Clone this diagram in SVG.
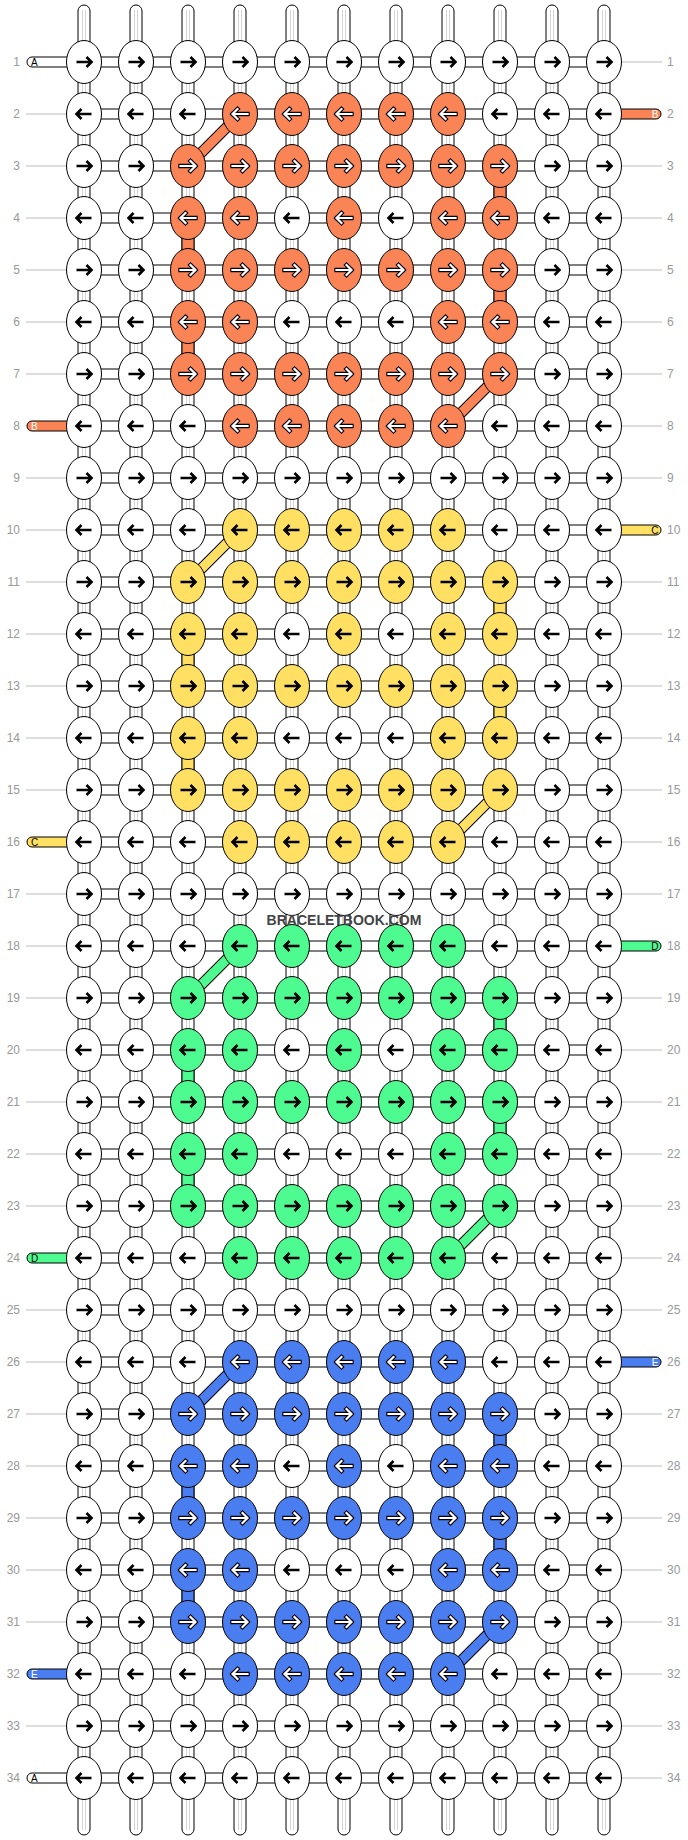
<svg xmlns="http://www.w3.org/2000/svg" xmlns:xlink="http://www.w3.org/1999/xlink" width="688" height="1840" viewBox="0 0 688 1840">
<style>
.bg{fill:#fff}
.lb{font-family:"Liberation Sans",Arial,sans-serif;font-size:12px;fill:#999}
.ll{stroke:#bbb;stroke-width:1}
.vt{fill:#fff;stroke:#000;stroke-width:1}
.vg{stroke:#d4d4d4;stroke-width:1}
.h{fill:#fff;stroke:#000;stroke-width:1}
.cs{stroke:#000;stroke-width:1}
.dk{stroke:#000;stroke-width:11;stroke-linecap:butt}
.kw{fill:#fff;stroke:#000;stroke-width:1}
.ko{fill:#FA8456;stroke:#000;stroke-width:1}
.ky{fill:#FFE062;stroke:#000;stroke-width:1}
.kg{fill:#4DFB91;stroke:#000;stroke-width:1}
.ku{fill:#4A7DF0;stroke:#000;stroke-width:1}
.ab{fill:none;stroke:#000;stroke-width:2.6;stroke-linejoin:miter}
.ao{fill:none;stroke:#000;stroke-width:4.4;stroke-linecap:square;stroke-linejoin:miter}
.ai{fill:none;stroke:#fff;stroke-width:2.2;stroke-linecap:square;stroke-linejoin:miter}
.tt{font-family:"Liberation Sans",Arial,sans-serif;font-size:10px}
.wm{font-family:"Liberation Sans",Arial,sans-serif;font-size:14px;font-weight:bold;fill:#444}
</style>
<defs>
<path id="pR" d="M-7.5,0H7M2.5,-5L7.5,0L2.5,5"/>
<path id="pL" d="M7.5,0H-7M-2.5,-5L-7.5,0L-2.5,5"/>
<g id="WR"><ellipse class="kw" rx="17.5" ry="21.5"/><use href="#pR" class="ab"/></g>
<g id="WL"><ellipse class="kw" rx="17.5" ry="21.5"/><use href="#pL" class="ab"/></g>
<g id="OR"><ellipse class="ko" rx="17.5" ry="21.5"/><use href="#pR" class="ao"/><use href="#pR" class="ai"/></g>
<g id="OL"><ellipse class="ko" rx="17.5" ry="21.5"/><use href="#pL" class="ao"/><use href="#pL" class="ai"/></g>
<g id="YR"><ellipse class="ky" rx="17.5" ry="21.5"/><use href="#pR" class="ab"/></g>
<g id="YL"><ellipse class="ky" rx="17.5" ry="21.5"/><use href="#pL" class="ab"/></g>
<g id="GR"><ellipse class="kg" rx="17.5" ry="21.5"/><use href="#pR" class="ab"/></g>
<g id="GL"><ellipse class="kg" rx="17.5" ry="21.5"/><use href="#pL" class="ab"/></g>
<g id="UR"><ellipse class="ku" rx="17.5" ry="21.5"/><use href="#pR" class="ao"/><use href="#pR" class="ai"/></g>
<g id="UL"><ellipse class="ku" rx="17.5" ry="21.5"/><use href="#pL" class="ao"/><use href="#pL" class="ai"/></g>
</defs>
<rect class="bg" x="0" y="0" width="688" height="1840"/>
<g id="labels">
<text class="lb" x="20" y="66" text-anchor="end">1</text><text class="lb" x="667" y="66">1</text><line class="ll" x1="621.5" y1="62" x2="662" y2="62"/>
<text class="lb" x="20" y="118" text-anchor="end">2</text><text class="lb" x="667" y="118">2</text><line class="ll" x1="26" y1="114" x2="66" y2="114"/>
<text class="lb" x="20" y="170" text-anchor="end">3</text><text class="lb" x="667" y="170">3</text><line class="ll" x1="26" y1="166" x2="66" y2="166"/><line class="ll" x1="621.5" y1="166" x2="662" y2="166"/>
<text class="lb" x="20" y="222" text-anchor="end">4</text><text class="lb" x="667" y="222">4</text><line class="ll" x1="26" y1="218" x2="66" y2="218"/><line class="ll" x1="621.5" y1="218" x2="662" y2="218"/>
<text class="lb" x="20" y="274" text-anchor="end">5</text><text class="lb" x="667" y="274">5</text><line class="ll" x1="26" y1="270" x2="66" y2="270"/><line class="ll" x1="621.5" y1="270" x2="662" y2="270"/>
<text class="lb" x="20" y="326" text-anchor="end">6</text><text class="lb" x="667" y="326">6</text><line class="ll" x1="26" y1="322" x2="66" y2="322"/><line class="ll" x1="621.5" y1="322" x2="662" y2="322"/>
<text class="lb" x="20" y="378" text-anchor="end">7</text><text class="lb" x="667" y="378">7</text><line class="ll" x1="26" y1="374" x2="66" y2="374"/><line class="ll" x1="621.5" y1="374" x2="662" y2="374"/>
<text class="lb" x="20" y="430" text-anchor="end">8</text><text class="lb" x="667" y="430">8</text><line class="ll" x1="621.5" y1="426" x2="662" y2="426"/>
<text class="lb" x="20" y="482" text-anchor="end">9</text><text class="lb" x="667" y="482">9</text><line class="ll" x1="26" y1="478" x2="66" y2="478"/><line class="ll" x1="621.5" y1="478" x2="662" y2="478"/>
<text class="lb" x="20" y="534" text-anchor="end">10</text><text class="lb" x="667" y="534">10</text><line class="ll" x1="26" y1="530" x2="66" y2="530"/>
<text class="lb" x="20" y="586" text-anchor="end">11</text><text class="lb" x="667" y="586">11</text><line class="ll" x1="26" y1="582" x2="66" y2="582"/><line class="ll" x1="621.5" y1="582" x2="662" y2="582"/>
<text class="lb" x="20" y="638" text-anchor="end">12</text><text class="lb" x="667" y="638">12</text><line class="ll" x1="26" y1="634" x2="66" y2="634"/><line class="ll" x1="621.5" y1="634" x2="662" y2="634"/>
<text class="lb" x="20" y="690" text-anchor="end">13</text><text class="lb" x="667" y="690">13</text><line class="ll" x1="26" y1="686" x2="66" y2="686"/><line class="ll" x1="621.5" y1="686" x2="662" y2="686"/>
<text class="lb" x="20" y="742" text-anchor="end">14</text><text class="lb" x="667" y="742">14</text><line class="ll" x1="26" y1="738" x2="66" y2="738"/><line class="ll" x1="621.5" y1="738" x2="662" y2="738"/>
<text class="lb" x="20" y="794" text-anchor="end">15</text><text class="lb" x="667" y="794">15</text><line class="ll" x1="26" y1="790" x2="66" y2="790"/><line class="ll" x1="621.5" y1="790" x2="662" y2="790"/>
<text class="lb" x="20" y="846" text-anchor="end">16</text><text class="lb" x="667" y="846">16</text><line class="ll" x1="621.5" y1="842" x2="662" y2="842"/>
<text class="lb" x="20" y="898" text-anchor="end">17</text><text class="lb" x="667" y="898">17</text><line class="ll" x1="26" y1="894" x2="66" y2="894"/><line class="ll" x1="621.5" y1="894" x2="662" y2="894"/>
<text class="lb" x="20" y="950" text-anchor="end">18</text><text class="lb" x="667" y="950">18</text><line class="ll" x1="26" y1="946" x2="66" y2="946"/>
<text class="lb" x="20" y="1002" text-anchor="end">19</text><text class="lb" x="667" y="1002">19</text><line class="ll" x1="26" y1="998" x2="66" y2="998"/><line class="ll" x1="621.5" y1="998" x2="662" y2="998"/>
<text class="lb" x="20" y="1054" text-anchor="end">20</text><text class="lb" x="667" y="1054">20</text><line class="ll" x1="26" y1="1050" x2="66" y2="1050"/><line class="ll" x1="621.5" y1="1050" x2="662" y2="1050"/>
<text class="lb" x="20" y="1106" text-anchor="end">21</text><text class="lb" x="667" y="1106">21</text><line class="ll" x1="26" y1="1102" x2="66" y2="1102"/><line class="ll" x1="621.5" y1="1102" x2="662" y2="1102"/>
<text class="lb" x="20" y="1158" text-anchor="end">22</text><text class="lb" x="667" y="1158">22</text><line class="ll" x1="26" y1="1154" x2="66" y2="1154"/><line class="ll" x1="621.5" y1="1154" x2="662" y2="1154"/>
<text class="lb" x="20" y="1210" text-anchor="end">23</text><text class="lb" x="667" y="1210">23</text><line class="ll" x1="26" y1="1206" x2="66" y2="1206"/><line class="ll" x1="621.5" y1="1206" x2="662" y2="1206"/>
<text class="lb" x="20" y="1262" text-anchor="end">24</text><text class="lb" x="667" y="1262">24</text><line class="ll" x1="621.5" y1="1258" x2="662" y2="1258"/>
<text class="lb" x="20" y="1314" text-anchor="end">25</text><text class="lb" x="667" y="1314">25</text><line class="ll" x1="26" y1="1310" x2="66" y2="1310"/><line class="ll" x1="621.5" y1="1310" x2="662" y2="1310"/>
<text class="lb" x="20" y="1366" text-anchor="end">26</text><text class="lb" x="667" y="1366">26</text><line class="ll" x1="26" y1="1362" x2="66" y2="1362"/>
<text class="lb" x="20" y="1418" text-anchor="end">27</text><text class="lb" x="667" y="1418">27</text><line class="ll" x1="26" y1="1414" x2="66" y2="1414"/><line class="ll" x1="621.5" y1="1414" x2="662" y2="1414"/>
<text class="lb" x="20" y="1470" text-anchor="end">28</text><text class="lb" x="667" y="1470">28</text><line class="ll" x1="26" y1="1466" x2="66" y2="1466"/><line class="ll" x1="621.5" y1="1466" x2="662" y2="1466"/>
<text class="lb" x="20" y="1522" text-anchor="end">29</text><text class="lb" x="667" y="1522">29</text><line class="ll" x1="26" y1="1518" x2="66" y2="1518"/><line class="ll" x1="621.5" y1="1518" x2="662" y2="1518"/>
<text class="lb" x="20" y="1574" text-anchor="end">30</text><text class="lb" x="667" y="1574">30</text><line class="ll" x1="26" y1="1570" x2="66" y2="1570"/><line class="ll" x1="621.5" y1="1570" x2="662" y2="1570"/>
<text class="lb" x="20" y="1626" text-anchor="end">31</text><text class="lb" x="667" y="1626">31</text><line class="ll" x1="26" y1="1622" x2="66" y2="1622"/><line class="ll" x1="621.5" y1="1622" x2="662" y2="1622"/>
<text class="lb" x="20" y="1678" text-anchor="end">32</text><text class="lb" x="667" y="1678">32</text><line class="ll" x1="621.5" y1="1674" x2="662" y2="1674"/>
<text class="lb" x="20" y="1730" text-anchor="end">33</text><text class="lb" x="667" y="1730">33</text><line class="ll" x1="26" y1="1726" x2="66" y2="1726"/><line class="ll" x1="621.5" y1="1726" x2="662" y2="1726"/>
<text class="lb" x="20" y="1782" text-anchor="end">34</text><text class="lb" x="667" y="1782">34</text><line class="ll" x1="621.5" y1="1778" x2="662" y2="1778"/>
</g>
<g id="connectors">
<g id="vthreads">
<rect class="vt" x="78" y="5" width="12" height="1830" rx="6"/><rect class="vt" x="130" y="5" width="12" height="1830" rx="6"/><rect class="vt" x="182" y="5" width="12" height="1830" rx="6"/><rect class="vt" x="234" y="5" width="12" height="1830" rx="6"/><rect class="vt" x="286" y="5" width="12" height="1830" rx="6"/><rect class="vt" x="338" y="5" width="12" height="1830" rx="6"/><rect class="vt" x="390" y="5" width="12" height="1830" rx="6"/><rect class="vt" x="442" y="5" width="12" height="1830" rx="6"/><rect class="vt" x="494" y="5" width="12" height="1830" rx="6"/><rect class="vt" x="546" y="5" width="12" height="1830" rx="6"/><rect class="vt" x="598" y="5" width="12" height="1830" rx="6"/>
<path class="vg" d="M82.5,10V1830M85.5,10V1830M134.5,10V1830M137.5,10V1830M186.5,10V1830M189.5,10V1830M238.5,10V1830M241.5,10V1830M290.5,10V1830M293.5,10V1830M342.5,10V1830M345.5,10V1830M394.5,10V1830M397.5,10V1830M446.5,10V1830M449.5,10V1830M498.5,10V1830M501.5,10V1830M550.5,10V1830M553.5,10V1830M602.5,10V1830M605.5,10V1830"/>
</g>
<g id="hthreads">
<rect class="h" x="84" y="57" width="520" height="10"/><rect class="h" x="84" y="109" width="520" height="10"/><rect class="h" x="84" y="161" width="520" height="10"/><rect class="h" x="84" y="213" width="520" height="10"/><rect class="h" x="84" y="265" width="520" height="10"/><rect class="h" x="84" y="317" width="520" height="10"/><rect class="h" x="84" y="369" width="520" height="10"/><rect class="h" x="84" y="421" width="520" height="10"/><rect class="h" x="84" y="473" width="520" height="10"/><rect class="h" x="84" y="525" width="520" height="10"/><rect class="h" x="84" y="577" width="520" height="10"/><rect class="h" x="84" y="629" width="520" height="10"/><rect class="h" x="84" y="681" width="520" height="10"/><rect class="h" x="84" y="733" width="520" height="10"/><rect class="h" x="84" y="785" width="520" height="10"/><rect class="h" x="84" y="837" width="520" height="10"/><rect class="h" x="84" y="889" width="520" height="10"/><rect class="h" x="84" y="941" width="520" height="10"/><rect class="h" x="84" y="993" width="520" height="10"/><rect class="h" x="84" y="1045" width="520" height="10"/><rect class="h" x="84" y="1097" width="520" height="10"/><rect class="h" x="84" y="1149" width="520" height="10"/><rect class="h" x="84" y="1201" width="520" height="10"/><rect class="h" x="84" y="1253" width="520" height="10"/><rect class="h" x="84" y="1305" width="520" height="10"/><rect class="h" x="84" y="1357" width="520" height="10"/><rect class="h" x="84" y="1409" width="520" height="10"/><rect class="h" x="84" y="1461" width="520" height="10"/><rect class="h" x="84" y="1513" width="520" height="10"/><rect class="h" x="84" y="1565" width="520" height="10"/><rect class="h" x="84" y="1617" width="520" height="10"/><rect class="h" x="84" y="1669" width="520" height="10"/><rect class="h" x="84" y="1721" width="520" height="10"/><rect class="h" x="84" y="1773" width="520" height="10"/>
</g>
<g id="colored">
<rect class="cs" fill="#FA8456" x="494" y="166" width="12" height="52"/><rect class="cs" fill="#FA8456" x="182" y="218" width="12" height="52"/><rect class="cs" fill="#FA8456" x="494" y="270" width="12" height="52"/><rect class="cs" fill="#FA8456" x="182" y="322" width="12" height="52"/>
<rect class="cs" fill="#FFE062" x="494" y="582" width="12" height="52"/><rect class="cs" fill="#FFE062" x="182" y="634" width="12" height="52"/><rect class="cs" fill="#FFE062" x="494" y="686" width="12" height="52"/><rect class="cs" fill="#FFE062" x="182" y="738" width="12" height="52"/>
<rect class="cs" fill="#4DFB91" x="494" y="998" width="12" height="52"/><rect class="cs" fill="#4DFB91" x="182" y="1050" width="12" height="52"/><rect class="cs" fill="#4DFB91" x="494" y="1102" width="12" height="52"/><rect class="cs" fill="#4DFB91" x="182" y="1154" width="12" height="52"/>
<rect class="cs" fill="#4A7DF0" x="494" y="1414" width="12" height="52"/><rect class="cs" fill="#4A7DF0" x="182" y="1466" width="12" height="52"/><rect class="cs" fill="#4A7DF0" x="494" y="1518" width="12" height="52"/><rect class="cs" fill="#4A7DF0" x="182" y="1570" width="12" height="52"/>
<path class="dk" d="M240,114L188,166M500,374L448,426M240,530L188,582M500,790L448,842M240,946L188,998M500,1206L448,1258M240,1362L188,1414M500,1622L448,1674"/>
<path stroke="#FA8456" stroke-width="9" d="M240,114L188,166M500,374L448,426"/>
<path stroke="#FFE062" stroke-width="9" d="M240,530L188,582M500,790L448,842"/>
<path stroke="#4DFB91" stroke-width="9" d="M240,946L188,998M500,1206L448,1258"/>
<path stroke="#4A7DF0" stroke-width="9" d="M240,1362L188,1414M500,1622L448,1674"/>
</g>
<g id="tails">
<path class="cs" fill="#fff" d="M84,57H32A5,5 0 0 0 32,67H84Z"/><text class="tt" x="31" y="65.5" fill="#000">A</text>
<path class="cs" fill="#FA8456" d="M604,109H656A5,5 0 0 1 656,119H604Z"/><text class="tt" x="658.5" y="117.5" fill="#fff" text-anchor="end">B</text>
<path class="cs" fill="#FA8456" d="M84,421H32A5,5 0 0 0 32,431H84Z"/><text class="tt" x="31" y="429.5" fill="#fff">B</text>
<path class="cs" fill="#FFE062" d="M604,525H656A5,5 0 0 1 656,535H604Z"/><text class="tt" x="658.5" y="533.5" fill="#000" text-anchor="end">C</text>
<path class="cs" fill="#FFE062" d="M84,837H32A5,5 0 0 0 32,847H84Z"/><text class="tt" x="31" y="845.5" fill="#000">C</text>
<path class="cs" fill="#4DFB91" d="M604,941H656A5,5 0 0 1 656,951H604Z"/><text class="tt" x="658.5" y="949.5" fill="#000" text-anchor="end">D</text>
<path class="cs" fill="#4DFB91" d="M84,1253H32A5,5 0 0 0 32,1263H84Z"/><text class="tt" x="31" y="1261.5" fill="#000">D</text>
<path class="cs" fill="#4A7DF0" d="M604,1357H656A5,5 0 0 1 656,1367H604Z"/><text class="tt" x="658.5" y="1365.5" fill="#fff" text-anchor="end">E</text>
<path class="cs" fill="#4A7DF0" d="M84,1669H32A5,5 0 0 0 32,1679H84Z"/><text class="tt" x="31" y="1677.5" fill="#fff">E</text>
<path class="cs" fill="#fff" d="M84,1773H32A5,5 0 0 0 32,1783H84Z"/><text class="tt" x="31" y="1781.5" fill="#000">A</text>
</g>
</g>
<g id="knots">
<g id="row1" transform="translate(0,62)"><g id="k1-1"><use href="#WR" x="84"/></g><g id="k1-2"><use href="#WR" x="136"/></g><g id="k1-3"><use href="#WR" x="188"/></g><g id="k1-4"><use href="#WR" x="240"/></g><g id="k1-5"><use href="#WR" x="292"/></g><g id="k1-6"><use href="#WR" x="344"/></g><g id="k1-7"><use href="#WR" x="396"/></g><g id="k1-8"><use href="#WR" x="448"/></g><g id="k1-9"><use href="#WR" x="500"/></g><g id="k1-10"><use href="#WR" x="552"/></g><g id="k1-11"><use href="#WR" x="604"/></g></g>
<g id="row2" transform="translate(0,114)"><g id="k2-1"><use href="#WL" x="84"/></g><g id="k2-2"><use href="#WL" x="136"/></g><g id="k2-3"><use href="#WL" x="188"/></g><g id="k2-4"><use href="#OL" x="240"/></g><g id="k2-5"><use href="#OL" x="292"/></g><g id="k2-6"><use href="#OL" x="344"/></g><g id="k2-7"><use href="#OL" x="396"/></g><g id="k2-8"><use href="#OL" x="448"/></g><g id="k2-9"><use href="#WL" x="500"/></g><g id="k2-10"><use href="#WL" x="552"/></g><g id="k2-11"><use href="#WL" x="604"/></g></g>
<g id="row3" transform="translate(0,166)"><g id="k3-1"><use href="#WR" x="84"/></g><g id="k3-2"><use href="#WR" x="136"/></g><g id="k3-3"><use href="#OR" x="188"/></g><g id="k3-4"><use href="#OR" x="240"/></g><g id="k3-5"><use href="#OR" x="292"/></g><g id="k3-6"><use href="#OR" x="344"/></g><g id="k3-7"><use href="#OR" x="396"/></g><g id="k3-8"><use href="#OR" x="448"/></g><g id="k3-9"><use href="#OR" x="500"/></g><g id="k3-10"><use href="#WR" x="552"/></g><g id="k3-11"><use href="#WR" x="604"/></g></g>
<g id="row4" transform="translate(0,218)"><g id="k4-1"><use href="#WL" x="84"/></g><g id="k4-2"><use href="#WL" x="136"/></g><g id="k4-3"><use href="#OL" x="188"/></g><g id="k4-4"><use href="#OL" x="240"/></g><g id="k4-5"><use href="#WL" x="292"/></g><g id="k4-6"><use href="#OL" x="344"/></g><g id="k4-7"><use href="#WL" x="396"/></g><g id="k4-8"><use href="#OL" x="448"/></g><g id="k4-9"><use href="#OL" x="500"/></g><g id="k4-10"><use href="#WL" x="552"/></g><g id="k4-11"><use href="#WL" x="604"/></g></g>
<g id="row5" transform="translate(0,270)"><g id="k5-1"><use href="#WR" x="84"/></g><g id="k5-2"><use href="#WR" x="136"/></g><g id="k5-3"><use href="#OR" x="188"/></g><g id="k5-4"><use href="#OR" x="240"/></g><g id="k5-5"><use href="#OR" x="292"/></g><g id="k5-6"><use href="#OR" x="344"/></g><g id="k5-7"><use href="#OR" x="396"/></g><g id="k5-8"><use href="#OR" x="448"/></g><g id="k5-9"><use href="#OR" x="500"/></g><g id="k5-10"><use href="#WR" x="552"/></g><g id="k5-11"><use href="#WR" x="604"/></g></g>
<g id="row6" transform="translate(0,322)"><g id="k6-1"><use href="#WL" x="84"/></g><g id="k6-2"><use href="#WL" x="136"/></g><g id="k6-3"><use href="#OL" x="188"/></g><g id="k6-4"><use href="#OL" x="240"/></g><g id="k6-5"><use href="#WL" x="292"/></g><g id="k6-6"><use href="#WL" x="344"/></g><g id="k6-7"><use href="#WL" x="396"/></g><g id="k6-8"><use href="#OL" x="448"/></g><g id="k6-9"><use href="#OL" x="500"/></g><g id="k6-10"><use href="#WL" x="552"/></g><g id="k6-11"><use href="#WL" x="604"/></g></g>
<g id="row7" transform="translate(0,374)"><g id="k7-1"><use href="#WR" x="84"/></g><g id="k7-2"><use href="#WR" x="136"/></g><g id="k7-3"><use href="#OR" x="188"/></g><g id="k7-4"><use href="#OR" x="240"/></g><g id="k7-5"><use href="#OR" x="292"/></g><g id="k7-6"><use href="#OR" x="344"/></g><g id="k7-7"><use href="#OR" x="396"/></g><g id="k7-8"><use href="#OR" x="448"/></g><g id="k7-9"><use href="#OR" x="500"/></g><g id="k7-10"><use href="#WR" x="552"/></g><g id="k7-11"><use href="#WR" x="604"/></g></g>
<g id="row8" transform="translate(0,426)"><g id="k8-1"><use href="#WL" x="84"/></g><g id="k8-2"><use href="#WL" x="136"/></g><g id="k8-3"><use href="#WL" x="188"/></g><g id="k8-4"><use href="#OL" x="240"/></g><g id="k8-5"><use href="#OL" x="292"/></g><g id="k8-6"><use href="#OL" x="344"/></g><g id="k8-7"><use href="#OL" x="396"/></g><g id="k8-8"><use href="#OL" x="448"/></g><g id="k8-9"><use href="#WL" x="500"/></g><g id="k8-10"><use href="#WL" x="552"/></g><g id="k8-11"><use href="#WL" x="604"/></g></g>
<g id="row9" transform="translate(0,478)"><g id="k9-1"><use href="#WR" x="84"/></g><g id="k9-2"><use href="#WR" x="136"/></g><g id="k9-3"><use href="#WR" x="188"/></g><g id="k9-4"><use href="#WR" x="240"/></g><g id="k9-5"><use href="#WR" x="292"/></g><g id="k9-6"><use href="#WR" x="344"/></g><g id="k9-7"><use href="#WR" x="396"/></g><g id="k9-8"><use href="#WR" x="448"/></g><g id="k9-9"><use href="#WR" x="500"/></g><g id="k9-10"><use href="#WR" x="552"/></g><g id="k9-11"><use href="#WR" x="604"/></g></g>
<g id="row10" transform="translate(0,530)"><g id="k10-1"><use href="#WL" x="84"/></g><g id="k10-2"><use href="#WL" x="136"/></g><g id="k10-3"><use href="#WL" x="188"/></g><g id="k10-4"><use href="#YL" x="240"/></g><g id="k10-5"><use href="#YL" x="292"/></g><g id="k10-6"><use href="#YL" x="344"/></g><g id="k10-7"><use href="#YL" x="396"/></g><g id="k10-8"><use href="#YL" x="448"/></g><g id="k10-9"><use href="#WL" x="500"/></g><g id="k10-10"><use href="#WL" x="552"/></g><g id="k10-11"><use href="#WL" x="604"/></g></g>
<g id="row11" transform="translate(0,582)"><g id="k11-1"><use href="#WR" x="84"/></g><g id="k11-2"><use href="#WR" x="136"/></g><g id="k11-3"><use href="#YR" x="188"/></g><g id="k11-4"><use href="#YR" x="240"/></g><g id="k11-5"><use href="#YR" x="292"/></g><g id="k11-6"><use href="#YR" x="344"/></g><g id="k11-7"><use href="#YR" x="396"/></g><g id="k11-8"><use href="#YR" x="448"/></g><g id="k11-9"><use href="#YR" x="500"/></g><g id="k11-10"><use href="#WR" x="552"/></g><g id="k11-11"><use href="#WR" x="604"/></g></g>
<g id="row12" transform="translate(0,634)"><g id="k12-1"><use href="#WL" x="84"/></g><g id="k12-2"><use href="#WL" x="136"/></g><g id="k12-3"><use href="#YL" x="188"/></g><g id="k12-4"><use href="#YL" x="240"/></g><g id="k12-5"><use href="#WL" x="292"/></g><g id="k12-6"><use href="#YL" x="344"/></g><g id="k12-7"><use href="#WL" x="396"/></g><g id="k12-8"><use href="#YL" x="448"/></g><g id="k12-9"><use href="#YL" x="500"/></g><g id="k12-10"><use href="#WL" x="552"/></g><g id="k12-11"><use href="#WL" x="604"/></g></g>
<g id="row13" transform="translate(0,686)"><g id="k13-1"><use href="#WR" x="84"/></g><g id="k13-2"><use href="#WR" x="136"/></g><g id="k13-3"><use href="#YR" x="188"/></g><g id="k13-4"><use href="#YR" x="240"/></g><g id="k13-5"><use href="#YR" x="292"/></g><g id="k13-6"><use href="#YR" x="344"/></g><g id="k13-7"><use href="#YR" x="396"/></g><g id="k13-8"><use href="#YR" x="448"/></g><g id="k13-9"><use href="#YR" x="500"/></g><g id="k13-10"><use href="#WR" x="552"/></g><g id="k13-11"><use href="#WR" x="604"/></g></g>
<g id="row14" transform="translate(0,738)"><g id="k14-1"><use href="#WL" x="84"/></g><g id="k14-2"><use href="#WL" x="136"/></g><g id="k14-3"><use href="#YL" x="188"/></g><g id="k14-4"><use href="#YL" x="240"/></g><g id="k14-5"><use href="#WL" x="292"/></g><g id="k14-6"><use href="#WL" x="344"/></g><g id="k14-7"><use href="#WL" x="396"/></g><g id="k14-8"><use href="#YL" x="448"/></g><g id="k14-9"><use href="#YL" x="500"/></g><g id="k14-10"><use href="#WL" x="552"/></g><g id="k14-11"><use href="#WL" x="604"/></g></g>
<g id="row15" transform="translate(0,790)"><g id="k15-1"><use href="#WR" x="84"/></g><g id="k15-2"><use href="#WR" x="136"/></g><g id="k15-3"><use href="#YR" x="188"/></g><g id="k15-4"><use href="#YR" x="240"/></g><g id="k15-5"><use href="#YR" x="292"/></g><g id="k15-6"><use href="#YR" x="344"/></g><g id="k15-7"><use href="#YR" x="396"/></g><g id="k15-8"><use href="#YR" x="448"/></g><g id="k15-9"><use href="#YR" x="500"/></g><g id="k15-10"><use href="#WR" x="552"/></g><g id="k15-11"><use href="#WR" x="604"/></g></g>
<g id="row16" transform="translate(0,842)"><g id="k16-1"><use href="#WL" x="84"/></g><g id="k16-2"><use href="#WL" x="136"/></g><g id="k16-3"><use href="#WL" x="188"/></g><g id="k16-4"><use href="#YL" x="240"/></g><g id="k16-5"><use href="#YL" x="292"/></g><g id="k16-6"><use href="#YL" x="344"/></g><g id="k16-7"><use href="#YL" x="396"/></g><g id="k16-8"><use href="#YL" x="448"/></g><g id="k16-9"><use href="#WL" x="500"/></g><g id="k16-10"><use href="#WL" x="552"/></g><g id="k16-11"><use href="#WL" x="604"/></g></g>
<g id="row17" transform="translate(0,894)"><g id="k17-1"><use href="#WR" x="84"/></g><g id="k17-2"><use href="#WR" x="136"/></g><g id="k17-3"><use href="#WR" x="188"/></g><g id="k17-4"><use href="#WR" x="240"/></g><g id="k17-5"><use href="#WR" x="292"/></g><g id="k17-6"><use href="#WR" x="344"/></g><g id="k17-7"><use href="#WR" x="396"/></g><g id="k17-8"><use href="#WR" x="448"/></g><g id="k17-9"><use href="#WR" x="500"/></g><g id="k17-10"><use href="#WR" x="552"/></g><g id="k17-11"><use href="#WR" x="604"/></g></g>
<g id="row18" transform="translate(0,946)"><g id="k18-1"><use href="#WL" x="84"/></g><g id="k18-2"><use href="#WL" x="136"/></g><g id="k18-3"><use href="#WL" x="188"/></g><g id="k18-4"><use href="#GL" x="240"/></g><g id="k18-5"><use href="#GL" x="292"/></g><g id="k18-6"><use href="#GL" x="344"/></g><g id="k18-7"><use href="#GL" x="396"/></g><g id="k18-8"><use href="#GL" x="448"/></g><g id="k18-9"><use href="#WL" x="500"/></g><g id="k18-10"><use href="#WL" x="552"/></g><g id="k18-11"><use href="#WL" x="604"/></g></g>
<g id="row19" transform="translate(0,998)"><g id="k19-1"><use href="#WR" x="84"/></g><g id="k19-2"><use href="#WR" x="136"/></g><g id="k19-3"><use href="#GR" x="188"/></g><g id="k19-4"><use href="#GR" x="240"/></g><g id="k19-5"><use href="#GR" x="292"/></g><g id="k19-6"><use href="#GR" x="344"/></g><g id="k19-7"><use href="#GR" x="396"/></g><g id="k19-8"><use href="#GR" x="448"/></g><g id="k19-9"><use href="#GR" x="500"/></g><g id="k19-10"><use href="#WR" x="552"/></g><g id="k19-11"><use href="#WR" x="604"/></g></g>
<g id="row20" transform="translate(0,1050)"><g id="k20-1"><use href="#WL" x="84"/></g><g id="k20-2"><use href="#WL" x="136"/></g><g id="k20-3"><use href="#GL" x="188"/></g><g id="k20-4"><use href="#GL" x="240"/></g><g id="k20-5"><use href="#WL" x="292"/></g><g id="k20-6"><use href="#GL" x="344"/></g><g id="k20-7"><use href="#WL" x="396"/></g><g id="k20-8"><use href="#GL" x="448"/></g><g id="k20-9"><use href="#GL" x="500"/></g><g id="k20-10"><use href="#WL" x="552"/></g><g id="k20-11"><use href="#WL" x="604"/></g></g>
<g id="row21" transform="translate(0,1102)"><g id="k21-1"><use href="#WR" x="84"/></g><g id="k21-2"><use href="#WR" x="136"/></g><g id="k21-3"><use href="#GR" x="188"/></g><g id="k21-4"><use href="#GR" x="240"/></g><g id="k21-5"><use href="#GR" x="292"/></g><g id="k21-6"><use href="#GR" x="344"/></g><g id="k21-7"><use href="#GR" x="396"/></g><g id="k21-8"><use href="#GR" x="448"/></g><g id="k21-9"><use href="#GR" x="500"/></g><g id="k21-10"><use href="#WR" x="552"/></g><g id="k21-11"><use href="#WR" x="604"/></g></g>
<g id="row22" transform="translate(0,1154)"><g id="k22-1"><use href="#WL" x="84"/></g><g id="k22-2"><use href="#WL" x="136"/></g><g id="k22-3"><use href="#GL" x="188"/></g><g id="k22-4"><use href="#GL" x="240"/></g><g id="k22-5"><use href="#WL" x="292"/></g><g id="k22-6"><use href="#WL" x="344"/></g><g id="k22-7"><use href="#WL" x="396"/></g><g id="k22-8"><use href="#GL" x="448"/></g><g id="k22-9"><use href="#GL" x="500"/></g><g id="k22-10"><use href="#WL" x="552"/></g><g id="k22-11"><use href="#WL" x="604"/></g></g>
<g id="row23" transform="translate(0,1206)"><g id="k23-1"><use href="#WR" x="84"/></g><g id="k23-2"><use href="#WR" x="136"/></g><g id="k23-3"><use href="#GR" x="188"/></g><g id="k23-4"><use href="#GR" x="240"/></g><g id="k23-5"><use href="#GR" x="292"/></g><g id="k23-6"><use href="#GR" x="344"/></g><g id="k23-7"><use href="#GR" x="396"/></g><g id="k23-8"><use href="#GR" x="448"/></g><g id="k23-9"><use href="#GR" x="500"/></g><g id="k23-10"><use href="#WR" x="552"/></g><g id="k23-11"><use href="#WR" x="604"/></g></g>
<g id="row24" transform="translate(0,1258)"><g id="k24-1"><use href="#WL" x="84"/></g><g id="k24-2"><use href="#WL" x="136"/></g><g id="k24-3"><use href="#WL" x="188"/></g><g id="k24-4"><use href="#GL" x="240"/></g><g id="k24-5"><use href="#GL" x="292"/></g><g id="k24-6"><use href="#GL" x="344"/></g><g id="k24-7"><use href="#GL" x="396"/></g><g id="k24-8"><use href="#GL" x="448"/></g><g id="k24-9"><use href="#WL" x="500"/></g><g id="k24-10"><use href="#WL" x="552"/></g><g id="k24-11"><use href="#WL" x="604"/></g></g>
<g id="row25" transform="translate(0,1310)"><g id="k25-1"><use href="#WR" x="84"/></g><g id="k25-2"><use href="#WR" x="136"/></g><g id="k25-3"><use href="#WR" x="188"/></g><g id="k25-4"><use href="#WR" x="240"/></g><g id="k25-5"><use href="#WR" x="292"/></g><g id="k25-6"><use href="#WR" x="344"/></g><g id="k25-7"><use href="#WR" x="396"/></g><g id="k25-8"><use href="#WR" x="448"/></g><g id="k25-9"><use href="#WR" x="500"/></g><g id="k25-10"><use href="#WR" x="552"/></g><g id="k25-11"><use href="#WR" x="604"/></g></g>
<g id="row26" transform="translate(0,1362)"><g id="k26-1"><use href="#WL" x="84"/></g><g id="k26-2"><use href="#WL" x="136"/></g><g id="k26-3"><use href="#WL" x="188"/></g><g id="k26-4"><use href="#UL" x="240"/></g><g id="k26-5"><use href="#UL" x="292"/></g><g id="k26-6"><use href="#UL" x="344"/></g><g id="k26-7"><use href="#UL" x="396"/></g><g id="k26-8"><use href="#UL" x="448"/></g><g id="k26-9"><use href="#WL" x="500"/></g><g id="k26-10"><use href="#WL" x="552"/></g><g id="k26-11"><use href="#WL" x="604"/></g></g>
<g id="row27" transform="translate(0,1414)"><g id="k27-1"><use href="#WR" x="84"/></g><g id="k27-2"><use href="#WR" x="136"/></g><g id="k27-3"><use href="#UR" x="188"/></g><g id="k27-4"><use href="#UR" x="240"/></g><g id="k27-5"><use href="#UR" x="292"/></g><g id="k27-6"><use href="#UR" x="344"/></g><g id="k27-7"><use href="#UR" x="396"/></g><g id="k27-8"><use href="#UR" x="448"/></g><g id="k27-9"><use href="#UR" x="500"/></g><g id="k27-10"><use href="#WR" x="552"/></g><g id="k27-11"><use href="#WR" x="604"/></g></g>
<g id="row28" transform="translate(0,1466)"><g id="k28-1"><use href="#WL" x="84"/></g><g id="k28-2"><use href="#WL" x="136"/></g><g id="k28-3"><use href="#UL" x="188"/></g><g id="k28-4"><use href="#UL" x="240"/></g><g id="k28-5"><use href="#WL" x="292"/></g><g id="k28-6"><use href="#UL" x="344"/></g><g id="k28-7"><use href="#WL" x="396"/></g><g id="k28-8"><use href="#UL" x="448"/></g><g id="k28-9"><use href="#UL" x="500"/></g><g id="k28-10"><use href="#WL" x="552"/></g><g id="k28-11"><use href="#WL" x="604"/></g></g>
<g id="row29" transform="translate(0,1518)"><g id="k29-1"><use href="#WR" x="84"/></g><g id="k29-2"><use href="#WR" x="136"/></g><g id="k29-3"><use href="#UR" x="188"/></g><g id="k29-4"><use href="#UR" x="240"/></g><g id="k29-5"><use href="#UR" x="292"/></g><g id="k29-6"><use href="#UR" x="344"/></g><g id="k29-7"><use href="#UR" x="396"/></g><g id="k29-8"><use href="#UR" x="448"/></g><g id="k29-9"><use href="#UR" x="500"/></g><g id="k29-10"><use href="#WR" x="552"/></g><g id="k29-11"><use href="#WR" x="604"/></g></g>
<g id="row30" transform="translate(0,1570)"><g id="k30-1"><use href="#WL" x="84"/></g><g id="k30-2"><use href="#WL" x="136"/></g><g id="k30-3"><use href="#UL" x="188"/></g><g id="k30-4"><use href="#UL" x="240"/></g><g id="k30-5"><use href="#WL" x="292"/></g><g id="k30-6"><use href="#WL" x="344"/></g><g id="k30-7"><use href="#WL" x="396"/></g><g id="k30-8"><use href="#UL" x="448"/></g><g id="k30-9"><use href="#UL" x="500"/></g><g id="k30-10"><use href="#WL" x="552"/></g><g id="k30-11"><use href="#WL" x="604"/></g></g>
<g id="row31" transform="translate(0,1622)"><g id="k31-1"><use href="#WR" x="84"/></g><g id="k31-2"><use href="#WR" x="136"/></g><g id="k31-3"><use href="#UR" x="188"/></g><g id="k31-4"><use href="#UR" x="240"/></g><g id="k31-5"><use href="#UR" x="292"/></g><g id="k31-6"><use href="#UR" x="344"/></g><g id="k31-7"><use href="#UR" x="396"/></g><g id="k31-8"><use href="#UR" x="448"/></g><g id="k31-9"><use href="#UR" x="500"/></g><g id="k31-10"><use href="#WR" x="552"/></g><g id="k31-11"><use href="#WR" x="604"/></g></g>
<g id="row32" transform="translate(0,1674)"><g id="k32-1"><use href="#WL" x="84"/></g><g id="k32-2"><use href="#WL" x="136"/></g><g id="k32-3"><use href="#WL" x="188"/></g><g id="k32-4"><use href="#UL" x="240"/></g><g id="k32-5"><use href="#UL" x="292"/></g><g id="k32-6"><use href="#UL" x="344"/></g><g id="k32-7"><use href="#UL" x="396"/></g><g id="k32-8"><use href="#UL" x="448"/></g><g id="k32-9"><use href="#WL" x="500"/></g><g id="k32-10"><use href="#WL" x="552"/></g><g id="k32-11"><use href="#WL" x="604"/></g></g>
<g id="row33" transform="translate(0,1726)"><g id="k33-1"><use href="#WR" x="84"/></g><g id="k33-2"><use href="#WR" x="136"/></g><g id="k33-3"><use href="#WR" x="188"/></g><g id="k33-4"><use href="#WR" x="240"/></g><g id="k33-5"><use href="#WR" x="292"/></g><g id="k33-6"><use href="#WR" x="344"/></g><g id="k33-7"><use href="#WR" x="396"/></g><g id="k33-8"><use href="#WR" x="448"/></g><g id="k33-9"><use href="#WR" x="500"/></g><g id="k33-10"><use href="#WR" x="552"/></g><g id="k33-11"><use href="#WR" x="604"/></g></g>
<g id="row34" transform="translate(0,1778)"><g id="k34-1"><use href="#WL" x="84"/></g><g id="k34-2"><use href="#WL" x="136"/></g><g id="k34-3"><use href="#WL" x="188"/></g><g id="k34-4"><use href="#WL" x="240"/></g><g id="k34-5"><use href="#WL" x="292"/></g><g id="k34-6"><use href="#WL" x="344"/></g><g id="k34-7"><use href="#WL" x="396"/></g><g id="k34-8"><use href="#WL" x="448"/></g><g id="k34-9"><use href="#WL" x="500"/></g><g id="k34-10"><use href="#WL" x="552"/></g><g id="k34-11"><use href="#WL" x="604"/></g></g>
</g>
<text class="wm" x="344" y="925" text-anchor="middle">BRACELETBOOK.COM</text>
</svg>
